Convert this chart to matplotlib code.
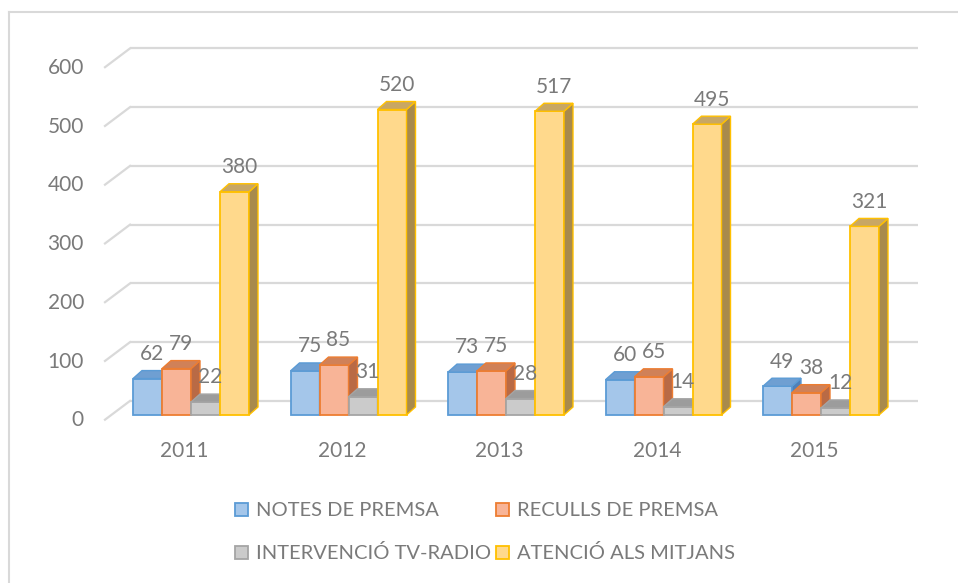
import numpy as np
import matplotlib
matplotlib.use("Agg")
import matplotlib.pyplot as plt
from matplotlib.patches import Rectangle, Polygon
from matplotlib.lines import Line2D

# ================= DATA =================
years = ["2011", "2012", "2013", "2014", "2015"]
series_names = ["NOTES DE PREMSA", "RECULLS DE PREMSA",
                "INTERVENCIÓ TV-RADIO", "ATENCIÓ ALS MITJANS"]
notes = [62, 75, 73, 60, 49]
reculls = [79, 85, 75, 65, 38]
intervencio = [22, 31, 28, 14, 12]
atencio = [380, 520, 517, 495, 321]
y_ticks = [0, 100, 200, 300, 400, 500, 600]

# ================= STYLE =================
# (front, edge, top, side)
colors = [
    ("#a4c6ea", "#5b9bd5", "#6f9fd2", "#4f80b8"),
    ("#f8b497", "#ed7d31", "#d08158", "#b96a45"),
    ("#cbcbcb", "#a5a5a5", "#9c9c9c", "#888888"),
    ("#ffd98c", "#ffc000", "#c8a764", "#a88a4c"),
]
txt_col = "#7a7a7a"
grid_col = "#d9d9d9"
plt.rcParams["font.family"] = ["Lato", "DejaVu Sans"]

W, H = 958, 583
fig = plt.figure(figsize=(W / 100, H / 100), dpi=100)
ax = fig.add_axes([0, 0, 1, 1])

# pixel scale of the chart: category step 157.5 px, 0.5875 px per unit
x0_px, step_px = 191, 157.5
base_px, scale_px = 415, 0.5875
ax.set_xlim(-x0_px / step_px, (W - x0_px) / step_px)
ax.set_ylim((base_px - H) / scale_px, base_px / scale_px)
ax.axis("off")

def px_x(p):
    return (p - x0_px) / step_px

bw = 29 / step_px          # bar width
dx = 9 / step_px           # depth shift x
dy = 8 / scale_px          # depth shift y
wall_dy = 24               # back wall offset
front_dy = -8              # floor front offset

# ---------- back wall gridlines ----------
for g in y_ticks:
    ax.plot([px_x(130), px_x(918)], [g + wall_dy, g + wall_dy],
            color=grid_col, lw=1.6, zorder=1, solid_capstyle="butt")
    ax.plot([px_x(105), px_x(130)], [g + front_dy, g + wall_dy],
            color=grid_col, lw=1.6, zorder=1)
    ax.text(px_x(84), g - 9, str(g), ha="right", va="center",
            fontsize=15, color=txt_col)

# ---------- bars ----------
data = [notes, reculls, intervencio, atencio]
z = 2
for i in range(len(years)):
    left = i - 2 * bw
    for s, vals in enumerate(data):
        v = vals[i]
        fc, ec, tc, sc = colors[s]
        xl = left + s * bw
        xr = xl + bw
        ax.add_patch(Rectangle((xl, 0), bw, v, facecolor=fc, edgecolor=ec,
                               lw=1.3, zorder=z))
        ax.add_patch(Polygon([(xr, 0), (xr + dx, dy), (xr + dx, v + dy), (xr, v)],
                             closed=True, facecolor=sc, edgecolor=ec, lw=1.0,
                             zorder=z + 0.5))
        ax.add_patch(Polygon([(xl, v), (xr, v), (xr + dx, v + dy), (xl + dx, v + dy)],
                             closed=True, facecolor=tc, edgecolor=ec, lw=1.0,
                             zorder=z + 0.5))
        z += 1
    for s, vals in enumerate(data):
        xc = left + s * bw + bw / 2 + dx / 2
        ax.text(xc, vals[i] + 42, str(vals[i]), ha="center", va="center",
                fontsize=15, color=txt_col, zorder=100)
    ax.text(i - 0.04, -61, years[i], ha="center", va="center",
            fontsize=15, color=txt_col)

# ---------- legend ----------
leg_pos = [(235, 510), (496, 510), (235, 553), (496, 553)]
for s, name in enumerate(series_names):
    px, py = leg_pos[s]
    fc, ec, tc, sc = colors[s]
    fig.patches.append(Rectangle((px / W, 1 - (py + 6) / H), 13 / W, 13 / H,
                                 transform=fig.transFigure, facecolor=fc,
                                 edgecolor=ec, lw=1.3))
    fig.text((px + 21) / W, 1 - py / H, name, ha="left", va="center",
             fontsize=14.5, color=txt_col)

# ---------- outer border ----------
fig.lines.append(Line2D([9 / W, 9 / W], [0, 1 - 12 / H], transform=fig.transFigure,
                        color="#d9d9d9", lw=1.5))
fig.lines.append(Line2D([9 / W, 1], [1 - 12 / H, 1 - 12 / H], transform=fig.transFigure,
                        color="#d9d9d9", lw=1.5))

fig.savefig("out.png", dpi=100, facecolor="white")
